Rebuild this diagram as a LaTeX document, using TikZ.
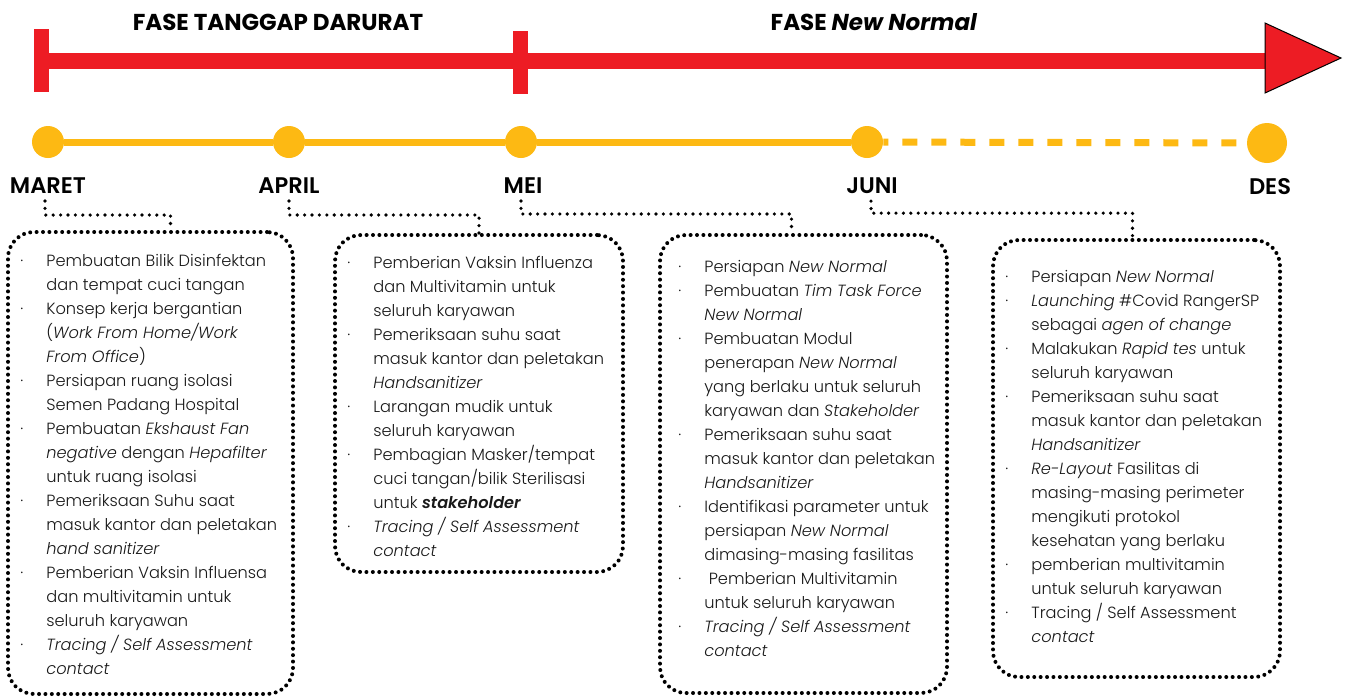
\documentclass[tikz,border=0pt]{standalone}
\usepackage{fontspec}
\setmainfont{Poppins}
\newfontfamily\listfont{Poppins Light}[ItalicFont={Poppins Light Italic}, BoldFont={Poppins SemiBold}, BoldItalicFont={Poppins SemiBold Italic}]
\newfontfamily\monthfont{Poppins SemiBold}
\usepackage{xcolor}
\usepackage{tikz}
\usetikzlibrary{positioning, fit, calc}

\definecolor{fasered}{HTML}{ED1C24}
\definecolor{monthgold}{HTML}{FDB913}

\begin{document}
\begin{tikzpicture}[
    x=0.5pt, y=-0.5pt,
    every node/.style={inner sep=0pt},
    phase/.style={font=\fontsize{11.5}{13}\selectfont\bfseries},
    month/.style={font=\monthfont\fontsize{11.3}{13}\selectfont},
    dot/.style={circle, fill=monthgold, minimum size=#1},
    dotbox/.style={draw, rounded corners=13pt, line width=2pt, dash pattern=on 0pt off 3.2pt, line cap=round},
    dotline/.style={line width=1.8pt, dash pattern=on 0pt off 3.7pt, line cap=round},
    listtext/.style={anchor=north west, font=\listfont\fontsize{8.1}{12}\selectfont, text=black!90}
]
\useasboundingbox (0,0) rectangle (1347,697);
\fill[white] (0,0) rectangle (1347,697);

% fase bar
\draw[fasered, line width=8pt] (34,61) -- (1266,61);
\fill[fasered] (34,29) rectangle (49,92);
\fill[fasered] (513,31) rectangle (528,94);
\filldraw[fill=fasered, draw=black, line width=0.5pt] (1265,23) -- (1341,58) -- (1265,93) -- cycle;
\node[phase] (darurat) at (278,22.5) {FASE TANGGAP DARURAT};
\node[phase] (newnormal) at (874,22.5) {FASE \textit{New Normal}};

% timeline
\node[dot=16pt] (mar) at (48,142) {};
\node[dot=16pt] (apr) at (289,142) {};
\node[dot=16pt] (mei) at (521,142) {};
\node[dot=16pt] (jun) at (867,142) {};
\node[dot=20pt] (des) at (1267,143) {};
\draw[monthgold, line width=3.5pt] (mar) -- (apr) -- (mei) -- (jun);
\draw[monthgold, line width=3.5pt, dash pattern=on 7.5pt off 7pt, dash phase=5pt] (jun) -- (des);

\node[month, below=9.5pt of mar] (maret) {MARET};
\node[month, below=9.5pt of apr] (april) {APRIL};
\node[month, below=9.5pt of mei, xshift=1pt] (meilbl) {MEI};
\node[month, below=9.5pt of jun, xshift=2.5pt] (juni) {JUNI};
\node[month, below=7.5pt of des, xshift=1.5pt] (deslbl) {DES};

% kotak kegiatan
\node[dotbox, fit={(8,232) (293,694)}] (box1) {};
\node[dotbox, fit={(335,235) (623,572)}] (box2) {};
\node[dotbox, fit={(660,235) (947,693)}] (box3) {};
\node[dotbox, fit={(993,240) (1280,677)}] (box4) {};

\draw[dotline] ([xshift=-1.5pt, yshift=-3.5pt]maret.south) -- ++(0,14) -| ($(box1.north)+(20,0)$);
\draw[dotline] ([yshift=-3.5pt]april.south) -- ++(0,14) -| (box2.north);
\draw[dotline] ([xshift=-1pt, yshift=-3.5pt]meilbl.south) -- ++(0,13) -| ($(box3.north)+(-12,0)$);
\draw[dotline] ([xshift=-0.5pt, yshift=-3.5pt]juni.south) -- ++(0,12) -| ($(box4.north)+(-4,0)$);

\node[listtext] (list1) at (20,249) {\begin{tabular}{@{}p{13pt}@{}l@{}}
· & Pembuatan Bilik Disinfektan\\
  & dan tempat cuci tangan\\
· & Konsep kerja bergantian\\
  & (\textit{Work From Home/Work}\\
  & \textit{From Office})\\
· & Persiapan ruang isolasi\\
  & Semen Padang Hospital\\
· & Pembuatan \textit{Ekshaust Fan}\\
  & \textit{negative} dengan \textit{Hepafilter}\\
  & untuk ruang isolasi\\
· & Pemeriksaan Suhu saat\\
  & masuk kantor dan peletakan\\
  & \textit{hand sanitizer}\\
· & Pemberian Vaksin Influensa\\
  & dan multivitamin untuk\\
  & seluruh karyawan\\
· & \textit{Tracing / Self Assessment}\\
  & \textit{contact}
\end{tabular}};

\node[listtext] (list2) at (347,251) {\begin{tabular}{@{}p{13pt}@{}l@{}}
· & Pemberian Vaksin Influenza\\
  & dan Multivitamin untuk\\
  & seluruh karyawan\\
· & Pemeriksaan suhu saat\\
  & masuk kantor dan peletakan\\
  & \textit{Handsanitizer}\\
· & Larangan mudik untuk\\
  & seluruh karyawan\\
· & Pembagian Masker/tempat\\
  & cuci tangan/bilik Sterilisasi\\
  & untuk \textbf{\textit{stakeholder}}\\
· & \textit{Tracing / Self Assessment}\\
  & \textit{contact}
\end{tabular}};

\node[listtext] (list3) at (678,255) {\begin{tabular}{@{}p{13pt}@{}l@{}}
· & Persiapan \textit{New Normal}\\
· & Pembuatan \textit{Tim Task Force}\\
  & \textit{New Normal}\\
· & Pembuatan Modul\\
  & penerapan \textit{New Normal}\\
  & yang berlaku untuk seluruh\\
  & karyawan dan \textit{Stakeholder}\\
· & Pemeriksaan suhu saat\\
  & masuk kantor dan peletakan\\
  & \textit{Handsanitizer}\\
· & Identifikasi parameter untuk\\
  & persiapan \textit{New Normal}\\
  & dimasing-masing fasilitas\\
· & \ Pemberian Multivitamin\\
  & untuk seluruh karyawan\\
· & \textit{Tracing / Self Assessment}\\
  & \textit{contact}
\end{tabular}};

\node[listtext] (list4) at (1005,265) {\begin{tabular}{@{}p{13pt}@{}l@{}}
· & Persiapan \textit{New Normal}\\
· & \textit{Launching} \#Covid RangerSP\\
  & sebagai \textit{agen of change}\\
· & Malakukan \textit{Rapid tes} untuk\\
  & seluruh karyawan\\
· & Pemeriksaan suhu saat\\
  & masuk kantor dan peletakan\\
  & \textit{Handsanitizer}\\
· & \textit{Re-Layout} Fasilitas di\\
  & masing-masing perimeter\\
  & mengikuti protokol\\
  & kesehatan yang berlaku\\
· & pemberian multivitamin\\
  & untuk seluruh karyawan\\
· & Tracing / Self Assessment\\
  & \textit{contact}
\end{tabular}};
\end{tikzpicture}
\end{document}
